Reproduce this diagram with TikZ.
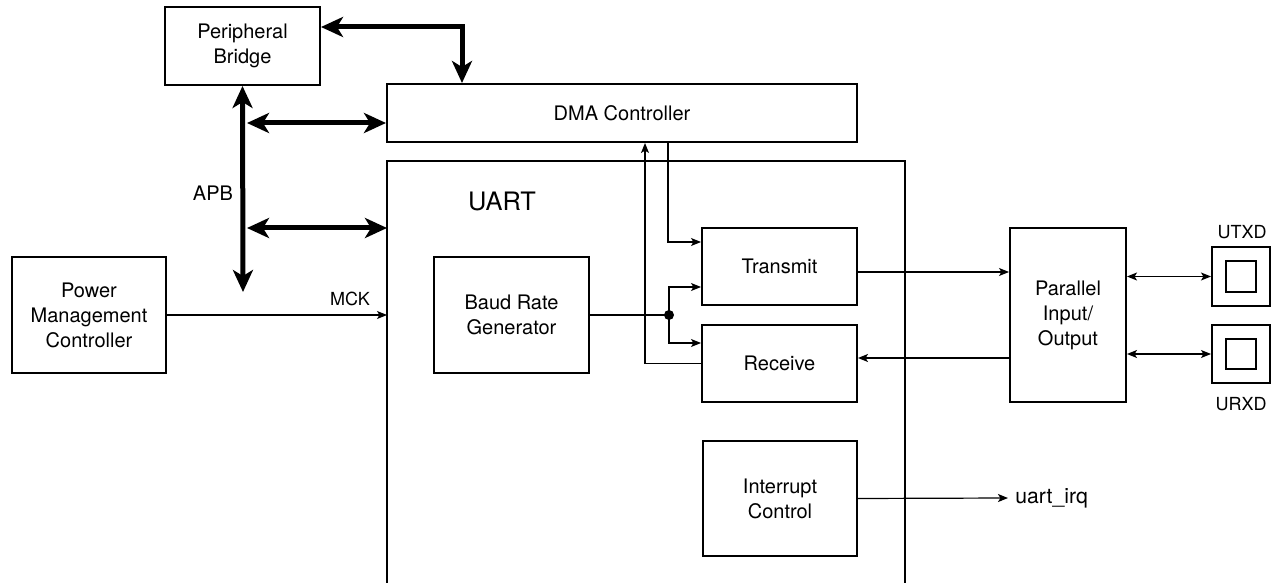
\documentclass[tikz,border=0pt]{standalone}
\usepackage{fontspec}
\setmainfont{TeX Gyre Heros}
\usetikzlibrary{arrows.meta, positioning, calc}

\begin{document}
\begin{tikzpicture}[
    x=0.5pt, y=-0.5pt,
    font=\fontsize{10}{12.5}\selectfont,
    block/.style={rectangle, draw, line width=1pt, align=center, inner sep=2pt},
    pad/.style={rectangle, draw, line width=1pt, minimum size=29pt},
    padcore/.style={rectangle, draw, line width=1pt, minimum size=15pt},
    small/.style={font=\fontsize{9}{11}\selectfont},
    bus/.style={{Stealth[length=11pt,width=10pt,inset=3pt]}-{Stealth[length=11pt,width=10pt,inset=3pt]}, line width=2.5pt},
    busend/.style={-{Stealth[length=11pt,width=10pt,inset=3pt]}, line width=2.5pt},
    sig/.style={-{Stealth[length=5pt,width=4pt,inset=1.2pt]}, line width=0.6pt},
    bisig/.style={{Stealth[length=5pt,width=4pt,inset=1.2pt]}-{Stealth[length=5pt,width=4pt,inset=1.2pt]}, line width=0.6pt}
]
    \useasboundingbox (0,0) rectangle (1276,583);

    \node[block, minimum width=77.5pt, minimum height=39pt] (bridge) at (242.5,46) {Peripheral\\Bridge};
    \node[block, minimum width=235pt, minimum height=29pt] (dma) at (622,113) {DMA Controller};
    \node[block, minimum width=77pt, minimum height=58pt] (pmc) at (89,315) {Power\\Management\\Controller};
    \node[block, minimum width=77.5pt, minimum height=58pt] (baud) at (511.5,315) {Baud Rate\\Generator};
    \node[block, minimum width=77.5pt, minimum height=38.5pt] (tx) at (779.5,266.5) {Transmit};
    \node[block, minimum width=77.5pt, minimum height=38.5pt, below=9pt of tx] (rx) {Receive};
    \node[block, minimum width=77pt, minimum height=57.5pt] (irq) at (780,498.5) {Interrupt\\Control};
    \node[block, minimum width=58pt, minimum height=87pt] (pio) at (1068,315) {Parallel\\Input/\\Output};
    \node[pad] (utxd) at (1241,276.5) {};
    \node[pad, below=8.75pt of utxd] (urxd) {};
    \node[padcore] (utxdcore) at (utxd) {};
    \node[padcore] (urxdcore) at (urxd) {};

    \coordinate (uartnw) at (387,161);
    \coordinate (uartne) at (905,161);
    \draw[line width=1pt] (387,583) -- (uartnw) -- (uartne) -- (905,583);
    \node (uartlbl) at (502,201) {\fontsize{12.7}{15}\selectfont UART};

    \node (apblbl) at (213,193) {APB};
    \node[small] (mcklbl) at (350,299) {MCK};
    \node[small] (utxdlbl) at (1242,232) {UTXD};
    \node[small] (urxdlbl) at (1241,404) {URXD};
    \node[anchor=west, inner sep=0pt, font=\fontsize{10.6}{13}\selectfont] (irqlbl) at (1015,498) {uart\_irq};

    \coordinate (apbend) at (243,292);
    \coordinate (apbdma) at (247,123);
    \coordinate (apbuart) at (247,228);
    \coordinate (split) at (669,315);
    \coordinate (txout) at ([yshift=-2.75pt]tx.east);
    \coordinate (rxin) at ([yshift=2.75pt]rx.east);

    \draw[bus] ([yshift=9.5pt]bridge.east) -| ([xshift=38pt]dma.north west);
    \draw[bus] (bridge.south) -- (apbend);
    \draw[bus] (apbdma) -- (apbdma -| dma.west);
    \draw[bus] (apbuart) -- (apbuart -| uartnw);

    \draw[sig] (pmc.east) -- (pmc.east -| uartnw);
    \draw[line width=0.6pt] (baud.east) -- (split);
    \fill (split) circle (2.5pt);
    \draw[sig] (split) |- ([yshift=9.5pt]tx.south west);
    \draw[sig] (split) |- ([yshift=-9.5pt]rx.north west);
    \draw[sig] ([xshift=141pt]dma.south west) |- ([yshift=-7.5pt]tx.north west);
    \draw[sig] (rx.west) -| ([xshift=129.5pt]dma.south west);

    \draw[sig] (txout) -- (txout -| pio.west);
    \draw[sig] (rxin -| pio.west) -- (rxin);
    \draw[bisig] (pio.east |- utxd) -- (utxd.west);
    \draw[bisig] (pio.east |- urxd) -- (urxd.west);
    \draw[sig] (irq.east) -- ([xshift=-3.5pt]irqlbl.west);
\end{tikzpicture}
\end{document}
